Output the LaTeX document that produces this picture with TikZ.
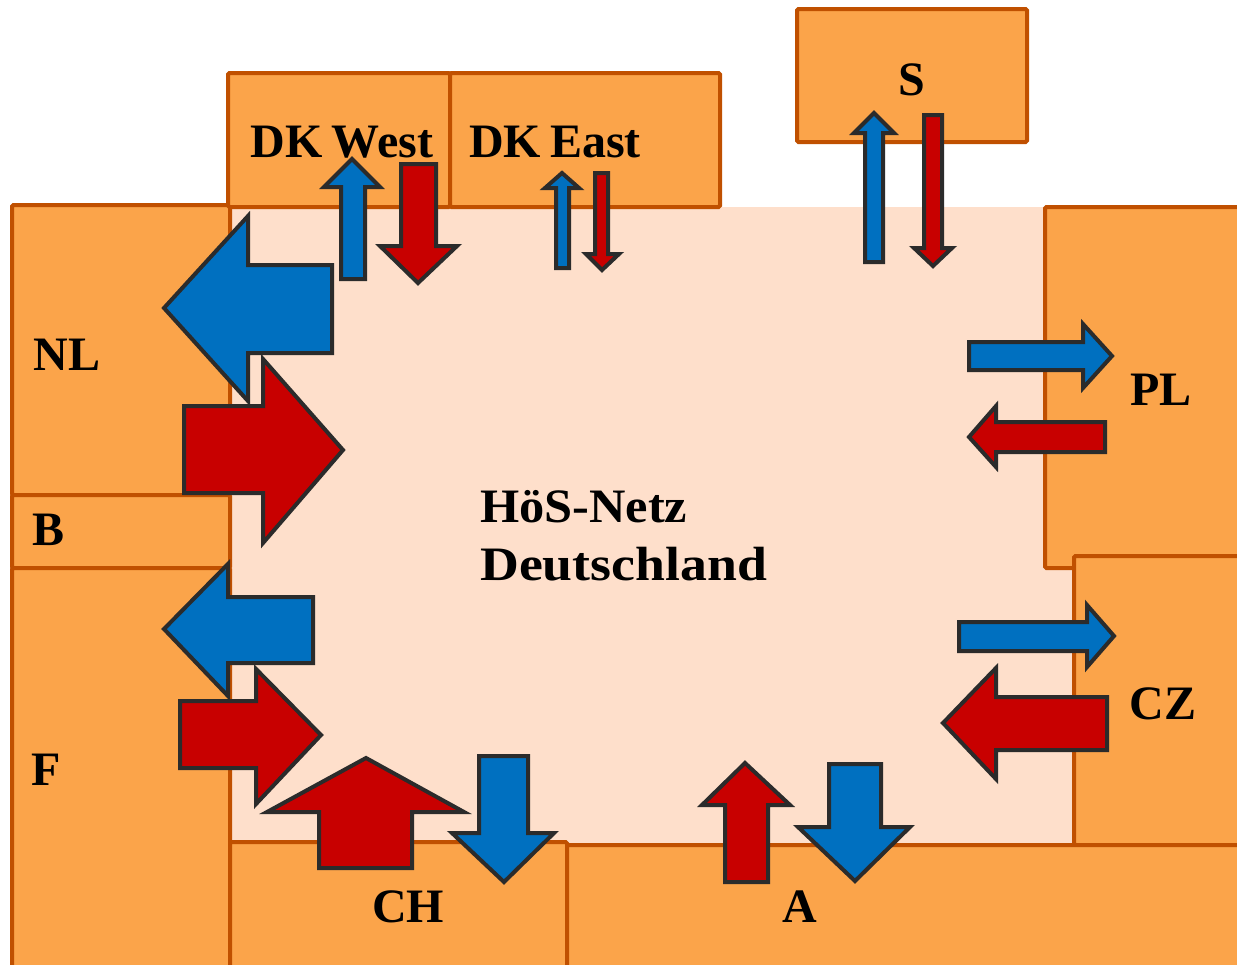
\documentclass[tikz,border=0pt]{standalone}
\usepackage{fontspec}
\setmainfont{Liberation Serif}
\definecolor{boxfill}{HTML}{FBA44A}
\definecolor{boxline}{HTML}{C05000}
\definecolor{landfill}{HTML}{FEDFCB}
\definecolor{arrblue}{HTML}{0070C0}
\definecolor{arrred}{HTML}{C80000}
\definecolor{arrline}{HTML}{2B2B2B}
\tikzset{
  country/.style={fill=boxfill, draw=boxline, line width=4pt, rounded corners=1.5pt},
  bluearr/.style={fill=arrblue, draw=arrline, line width=4pt, line join=miter},
  redarr/.style={fill=arrred, draw=arrline, line width=4pt, line join=miter},
  lbl/.style={font=\fontsize{48}{58}\selectfont\bfseries, inner sep=0pt, anchor=base}
}
\begin{document}
\begin{tikzpicture}[x=1pt,y=-1pt]
\useasboundingbox (0,0) rectangle (1237,964);
\fill[white] (0,0) rectangle (1237,964);
% Germany
\fill[landfill] (230,207) rectangle (1074,845);
% neighbour countries
\draw[country] (12,205) rectangle (230,495);
\draw[country] (12,495) rectangle (230,568);
\draw[country] (12,568) rectangle (230,985);
\draw[country] (228,73) rectangle (450,207);
\draw[country] (450,73) rectangle (720,207);
\draw[country] (797,9) rectangle (1027,142);
\draw[country] (1045,207) rectangle (1255,568);
\draw[country] (1074,556) rectangle (1255,845);
\draw[country] (230,842) rectangle (567,985);
\draw[country] (567,845) rectangle (1255,985);
% labels
\node[lbl] (dkw) at (342,157) {DK\kern-3pt\ West};
\node[lbl] (dke) at (555,157) {DK\kern-3pt\ East};
\node[lbl] (s) at (912,95) {S};
\node[lbl] (nl) at (67,370) {NL};
\node[lbl] (pl) at (1161,405) {PL};
\node[lbl] (b) at (49,545) {B};
\node[lbl] (f) at (46,785) {F};
\node[lbl] (ch) at (408,922) {CH};
\node[lbl] (a) at (800,922) {A};
\node[lbl] (cz) at (1163,719) {CZ};
\node[lbl, anchor=base west] (de1) at (480,522) {\scalebox{1.05}[1]{HöS-Netz}};
\node[lbl, anchor=base west] (de2) at (480,580) {\scalebox{1.12}[1]{Deutschland}};
% NL
\draw[bluearr] (332,265)--(248,265)--(248,216)--(164,308)--(248,401)--(248,353)--(332,353)--cycle;
\draw[redarr] (184,406)--(263,406)--(263,359)--(343,450)--(263,543)--(263,493)--(184,493)--cycle;
% DK West
\draw[bluearr] (341,279)--(341,187)--(324,187)--(352,159)--(380,187)--(365,187)--(365,279)--cycle;
\draw[redarr] (401,164)--(436,164)--(436,246)--(457,246)--(418,283)--(380,246)--(401,246)--cycle;
% DK East
\draw[bluearr] (556,268)--(556,188)--(545,188)--(562,173)--(579,188)--(569,188)--(569,268)--cycle;
\draw[redarr] (595,173)--(608,173)--(608,254)--(619,254)--(602,270)--(586,254)--(595,254)--cycle;
% S
\draw[bluearr] (865,262)--(865,133)--(854,133)--(874,113)--(894,133)--(883,133)--(883,262)--cycle;
\draw[redarr] (924,115)--(942,115)--(942,248)--(952,248)--(933,266)--(914,248)--(924,248)--cycle;
% PL
\draw[bluearr] (969,342)--(1083,342)--(1083,324)--(1112,356)--(1083,388)--(1083,370)--(969,370)--cycle;
\draw[redarr] (1105,422)--(996,422)--(996,406)--(969,437)--(996,467)--(996,452)--(1105,452)--cycle;
% F
\draw[bluearr] (313,597)--(228,597)--(228,564)--(164,629)--(228,696)--(228,663)--(313,663)--cycle;
\draw[redarr] (180,701)--(256,701)--(256,669)--(321,735)--(256,804)--(256,768)--(180,768)--cycle;
% CH
\draw[redarr] (319,868)--(319,812)--(267,812)--(366,758)--(464,812)--(412,812)--(412,868)--cycle;
\draw[bluearr] (479,756)--(528,756)--(528,833)--(554,833)--(504,882)--(452,833)--(479,833)--cycle;
% CZ
\draw[bluearr] (959,622)--(1087,622)--(1087,605)--(1114,636)--(1087,667)--(1087,651)--(959,651)--cycle;
\draw[redarr] (1107,697)--(996,697)--(996,668)--(943,723)--(996,779)--(996,750)--(1107,750)--cycle;
% A
\draw[redarr] (725,882)--(725,805)--(702,805)--(745,763)--(790,805)--(768,805)--(768,882)--cycle;
\draw[bluearr] (829,764)--(881,764)--(881,827)--(910,827)--(855,881)--(798,827)--(829,827)--cycle;
\end{tikzpicture}
\end{document}
